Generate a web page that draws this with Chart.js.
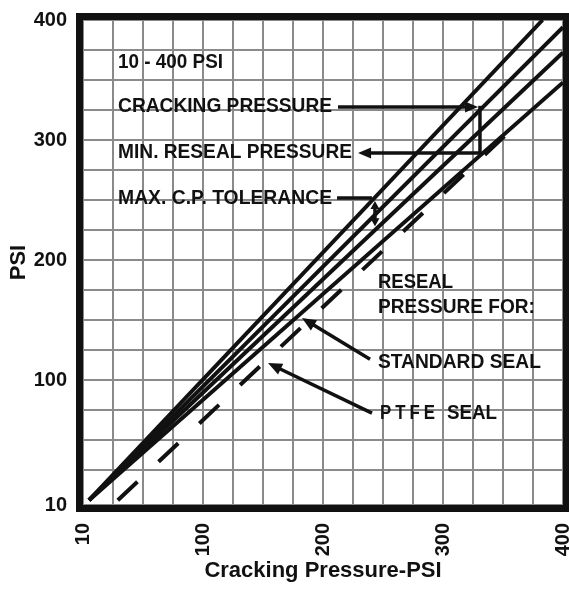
<!DOCTYPE html>
<html><head><meta charset="utf-8">
<script src="https://cdn.jsdelivr.net/npm/chart.js@4"></script>
<style>html,body{margin:0;padding:0;background:#fff;}</style>
</head><body>
<canvas id="c" width="569" height="590" style="display:block;width:569px;height:590px"></canvas>
<script>
// ---- data ----
const maxCrackX   = [5, 383];  const maxCrackY   = [0, 400];
const crackX      = [5, 400];  const crackY      = [0, 394];
const minResealX  = [5, 400];  const minResealY  = [0, 373];
const stdSealX    = [5, 400];  const stdSealY    = [0, 348];
const ptfeSealX   = [29, 352]; const ptfeSealY   = [0, 304];
const xTickValues = [0, 100, 200, 300, 400];
const xTickLabels = ['10', '100', '200', '300', '400'];
const yTickValues = [-4, 100, 200, 300, 400];
const yTickLabels = ['10', '100', '200', '300', '400'];
const gridStep = 25;

const pts = (xs, ys) => xs.map((x, i) => ({x, y: ys[i]}));
const FONT = "'Liberation Sans', Arial, Helvetica, sans-serif";
const INK = '#111';

// annotation texts and arrows (placed in data units through the scales)
const notes = [
  {text: '10 - 400 PSI',          x: 29.2,  y: 365,   w: 105},
  {text: 'CRACKING PRESSURE',     x: 29.2,  y: 328.3, w: 214},
  {text: 'MIN. RESEAL PRESSURE',  x: 29.2,  y: 290,   w: 234},
  {text: 'MAX. C.P. TOLERANCE',   x: 29.2,  y: 251.7, w: 214},
  {text: 'RESEAL',                x: 245.8, y: 181.7, w: 75},
  {text: 'PRESSURE FOR:',         x: 245.8, y: 160.8, w: 157},
  {text: 'STANDARD SEAL',         x: 245.8, y: 115,   w: 163},
  {text: 'PTFE',                  x: 247.5, y: 72.5,  w: 59, spacing: 5},
  {text: 'SEAL',                  x: 303.3, y: 72.5,  w: 50}
];
const arrows = [
  {from: [212.5, 327.5], to: [329.2, 327.5], head: 'end', hl: 13, hw: 5.5},
  {from: [330.8, 328.5], to: [330.8, 288.2], head: 'none'},
  {from: [331.8, 289.2], to: [229.2, 289.2], head: 'end', hl: 13, hw: 5.5},
  {from: [211.7, 251.7], to: [240.8, 251.7], head: 'none'},
  {from: [243.3, 249.2], to: [243.3, 228.3], head: 'both', hl: 8, hw: 4.5},
  {from: [239.2, 117.5], to: [182.5, 151.7], head: 'end', hl: 14, hw: 6},
  {from: [240.8, 72.5],  to: [154.2, 114.2], head: 'end', hl: 14, hw: 6}
];

function drawHead(ctx, tx, ty, fx, fy, hl, hw) {
  const a = Math.atan2(ty - fy, tx - fx);
  ctx.save();
  ctx.translate(tx, ty); ctx.rotate(a);
  ctx.beginPath();
  ctx.moveTo(0, 0); ctx.lineTo(-hl, -hw); ctx.lineTo(-hl, hw); ctx.closePath();
  ctx.fill();
  ctx.restore();
}

const annot = {
  id: 'annot',
  afterDraw(chart) {
    const {ctx, chartArea: ca, scales: {x, y}} = chart;
    ctx.save();
    // frame
    ctx.strokeStyle = INK; ctx.lineWidth = 7;
    ctx.strokeRect(ca.left - 3.5, ca.top - 3.5, ca.right - ca.left + 7, ca.bottom - ca.top + 7);
    // texts
    ctx.fillStyle = INK; ctx.textBaseline = 'middle'; ctx.textAlign = 'left';
    ctx.font = 'bold 21px ' + FONT;
    notes.forEach(n => {
      ctx.letterSpacing = (n.spacing || 0) + 'px';
      ctx.fillText(n.text, x.getPixelForValue(n.x), y.getPixelForValue(n.y), n.w);
    });
    ctx.letterSpacing = '0px';
    // arrows
    ctx.strokeStyle = INK; ctx.lineWidth = 3.5; ctx.lineCap = 'butt';
    arrows.forEach(a => {
      let fx = x.getPixelForValue(a.from[0]), fy = y.getPixelForValue(a.from[1]);
      let tx = x.getPixelForValue(a.to[0]),   ty = y.getPixelForValue(a.to[1]);
      const len = Math.hypot(tx - fx, ty - fy), ux = (tx - fx) / len, uy = (ty - fy) / len;
      let sx = fx, sy = fy, ex = tx, ey = ty;
      if (a.head === 'end' || a.head === 'both') { ex = tx - ux * a.hl * 0.8; ey = ty - uy * a.hl * 0.8; }
      if (a.head === 'both') { sx = fx + ux * a.hl * 0.8; sy = fy + uy * a.hl * 0.8; }
      ctx.beginPath(); ctx.moveTo(sx, sy); ctx.lineTo(ex, ey); ctx.stroke();
      if (a.head === 'end' || a.head === 'both') drawHead(ctx, tx, ty, fx, fy, a.hl, a.hw);
      if (a.head === 'both') drawHead(ctx, fx, fy, tx, ty, a.hl, a.hw);
    });
    ctx.restore();
  }
};

const lineDs = (label, data, dash) => ({
  label, data, borderColor: INK, borderWidth: 4, pointRadius: 0,
  borderDash: dash || [], tension: 0, fill: false, borderCapStyle: 'butt'
});

new Chart(document.getElementById('c'), {
  type: 'line',
  data: {
    datasets: [
      lineDs('Max. cracking pressure', pts(maxCrackX, maxCrackY)),
      lineDs('Cracking pressure', pts(crackX, crackY)),
      lineDs('Min. reseal pressure', pts(minResealX, minResealY)),
      lineDs('Reseal - standard seal', pts(stdSealX, stdSealY)),
      lineDs('Reseal - PTFE seal', pts(ptfeSealX, ptfeSealY), [27, 29])
    ]
  },
  options: {
    responsive: false, animation: false, devicePixelRatio: 1,
    layout: {padding: {top: 20, right: 6, left: 0, bottom: 0}},
    plugins: {legend: {display: false}, tooltip: {enabled: false}},
    scales: {
      x: {
        type: 'linear', min: 0, max: 400,
        afterBuildTicks: s => {
          const t = []; for (let v = 0; v <= 400; v += gridStep) t.push({value: v}); s.ticks = t;
        },
        afterFit: s => { s.height = 85; s.paddingLeft = 0; s.paddingRight = 0; },
        grid: {color: '#8a8a8a', lineWidth: 2, drawTicks: false},
        border: {display: false},
        ticks: {
          autoSkip: false, minRotation: 90, maxRotation: 90, padding: 18, color: INK,
          font: {family: FONT, size: 20, weight: 'bold'},
          callback: v => { const i = xTickValues.indexOf(v); return i >= 0 ? xTickLabels[i] : ''; }
        },
        title: {display: true, text: 'Cracking Pressure-PSI', color: INK,
          font: {family: FONT, size: 22, weight: 'bold'}, padding: {top: 0, bottom: 6}}
      },
      y: {
        type: 'linear', min: -4, max: 400,
        afterBuildTicks: s => {
          const t = [{value: -4}]; for (let v = gridStep; v <= 400; v += gridStep) t.push({value: v}); s.ticks = t;
        },
        afterFit: s => { s.width = 83; s.paddingTop = 0; s.paddingBottom = 0; },
        grid: {color: '#8a8a8a', lineWidth: 2, drawTicks: false},
        border: {display: false},
        ticks: {
          autoSkip: false, padding: 16, color: INK,
          font: {family: FONT, size: 20, weight: 'bold'},
          callback: v => { const i = yTickValues.indexOf(v); return i >= 0 ? yTickLabels[i] : ''; }
        },
        title: {display: true, text: 'PSI', color: INK,
          font: {family: FONT, size: 22, weight: 'bold'}, padding: {top: 6, bottom: 0}}
      }
    }
  },
  plugins: [annot]
});
</script>
</body></html>
